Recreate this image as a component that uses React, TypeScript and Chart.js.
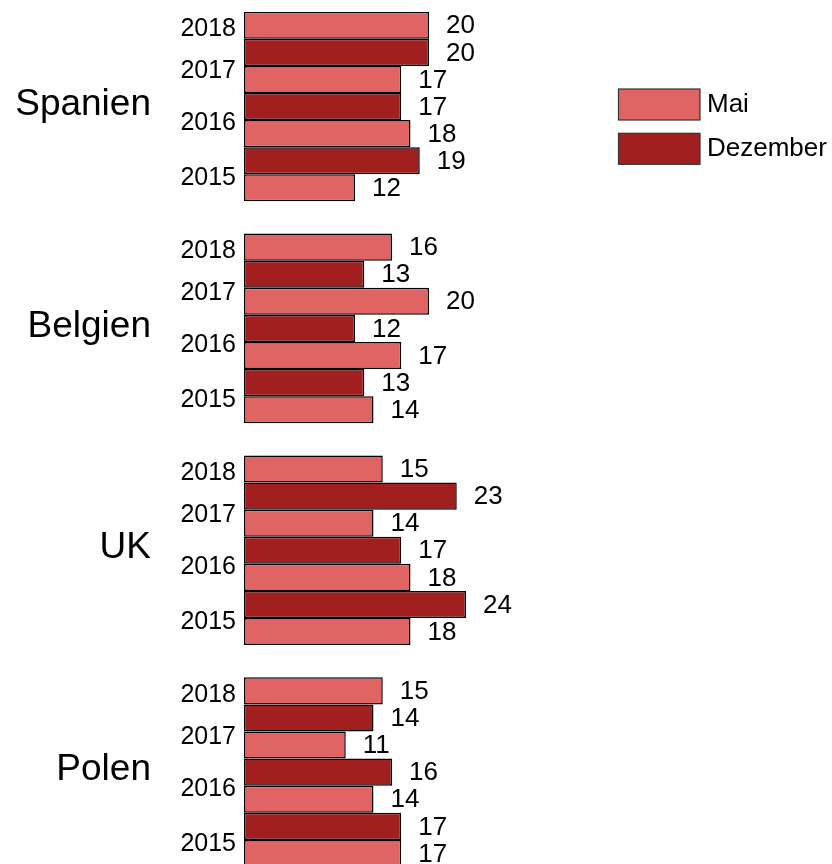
import React, { useEffect, useRef } from "react";
import { Chart, registerables } from "chart.js";

Chart.register(...registerables);

// ---------- data ----------
const COUNTRIES = ["Spanien", "Belgien", "UK", "Polen"];
const YEAR_LABELS = ["2018", "2017", "2016", "2015"];
const SERIES = ["Mai", "Dezember"];
// order of the bars inside each country, top to bottom
const BAR_SERIES = ["Mai", "Dezember", "Mai", "Dezember", "Mai", "Dezember", "Mai"];
const SPANIEN = [20, 20, 17, 17, 18, 19, 12];
const BELGIEN = [16, 13, 20, 12, 17, 13, 14];
const UK = [15, 23, 14, 17, 18, 24, 18];
const POLEN = [15, 14, 11, 16, 14, 17, 17];
const VALUES = [SPANIEN, BELGIEN, UK, POLEN];

// ---------- style / layout ----------
const COLORS = ["#E06464", "#A21F20"];
const FONT = "'Liberation Sans', Arial, Helvetica, sans-serif";
const GROUP_STEP = 8.19; // slots between the first bars of two countries
const YEAR_OFFSETS = [0.14, 1.71, 3.62, 5.64];
const W = 832;
const H = 864;

export default function App() {
  const ref = useRef<HTMLCanvasElement>(null);

  useEffect(() => {
    document.body.style.margin = "0";
    const canvas = ref.current;
    if (!canvas) return;

    const datasets = SERIES.map((s, si) => ({
      label: s,
      data: [] as { x: number; y: number }[],
      backgroundColor: COLORS[si],
      borderColor: "#000000",
      borderWidth: 1.5,
      borderSkipped: false as const,
      inflateAmount: 0,
      grouped: false,
      categoryPercentage: 1,
      barPercentage: 1,
    }));
    COUNTRIES.forEach((_, g) => {
      BAR_SERIES.forEach((s, i) => {
        datasets[SERIES.indexOf(s)].data.push({ x: VALUES[g][i], y: g * GROUP_STEP + i });
      });
    });

    const tickValues: number[] = [];
    const tickLabels: string[] = [];
    COUNTRIES.forEach((_, g) =>
      YEAR_LABELS.forEach((yl, k) => {
        tickValues.push(g * GROUP_STEP + YEAR_OFFSETS[k]);
        tickLabels.push(yl);
      })
    );

    const annotate = {
      id: "annotate",
      afterDatasetsDraw(chart: any) {
        const ctx = chart.ctx as CanvasRenderingContext2D;
        const ys = chart.scales.y;
        ctx.save();
        ctx.fillStyle = "#000000";
        ctx.textBaseline = "middle";

        // value labels
        ctx.font = `26px ${FONT}`;
        ctx.textAlign = "left";
        chart.data.datasets.forEach((ds: any, di: number) => {
          const meta = chart.getDatasetMeta(di);
          meta.data.forEach((el: any, j: number) => {
            ctx.fillText(String(ds.data[j].x), el.x + 17, el.y + 1);
          });
        });

        // country labels
        ctx.font = `37px ${FONT}`;
        ctx.textAlign = "right";
        COUNTRIES.forEach((c, g) => {
          ctx.fillText(c, 151, ys.getPixelForValue(g * GROUP_STEP + 3) - 2);
        });

        // legend
        ctx.font = `26px ${FONT}`;
        ctx.textAlign = "left";
        chart.data.datasets.forEach((ds: any, di: number) => {
          const bx = 618.5;
          const by = 89 + di * 44.3;
          const bw = 81.5;
          const bh = 31;
          ctx.fillStyle = ds.backgroundColor;
          ctx.fillRect(bx, by, bw, bh);
          ctx.strokeStyle = "#333333";
          ctx.lineWidth = 1.2;
          ctx.strokeRect(bx, by, bw, bh);
          ctx.fillStyle = "#000000";
          ctx.fillText(ds.label, 707, by + bh / 2 + 0.5);
        });
        ctx.restore();
      },
    };

    const chart = new Chart(canvas, {
      type: "bar",
      data: { datasets: datasets as any },
      options: {
        indexAxis: "y",
        animation: false,
        responsive: false,
        maintainAspectRatio: false,
        layout: { padding: { left: 0, right: W - 244 - 40 * 9.25, top: 11.7, bottom: 0 } },
        plugins: {
          legend: { display: false },
          tooltip: { enabled: false },
        },
        scales: {
          x: {
            type: "linear",
            display: false,
            min: 0,
            max: 40,
          },
          y: {
            type: "linear",
            reverse: true,
            offset: false,
            min: -0.5,
            max: 30.96,
            bounds: "data",
            grid: { display: false, drawTicks: false, offset: false },
            border: { display: false },
            afterBuildTicks: (scale: any) => {
              scale.ticks = tickValues.map((v) => ({ value: v }));
            },
            afterFit: (scale: any) => {
              scale.width = 244;
              scale.paddingTop = 0;
              scale.paddingBottom = 0;
            },
            ticks: {
              autoSkip: false,
              padding: 8,
              color: "#000000",
              font: { family: FONT, size: 25 },
              callback: (_v: any, i: number) => tickLabels[i],
            },
          },
        },
      },
      plugins: [annotate],
    });

    return () => chart.destroy();
  }, []);

  return (
    <div style={{ position: "absolute", left: 0, top: 0, width: W, height: H, background: "#fff" }}>
      <canvas ref={ref} width={W} height={H} style={{ display: "block" }} />
    </div>
  );
}
